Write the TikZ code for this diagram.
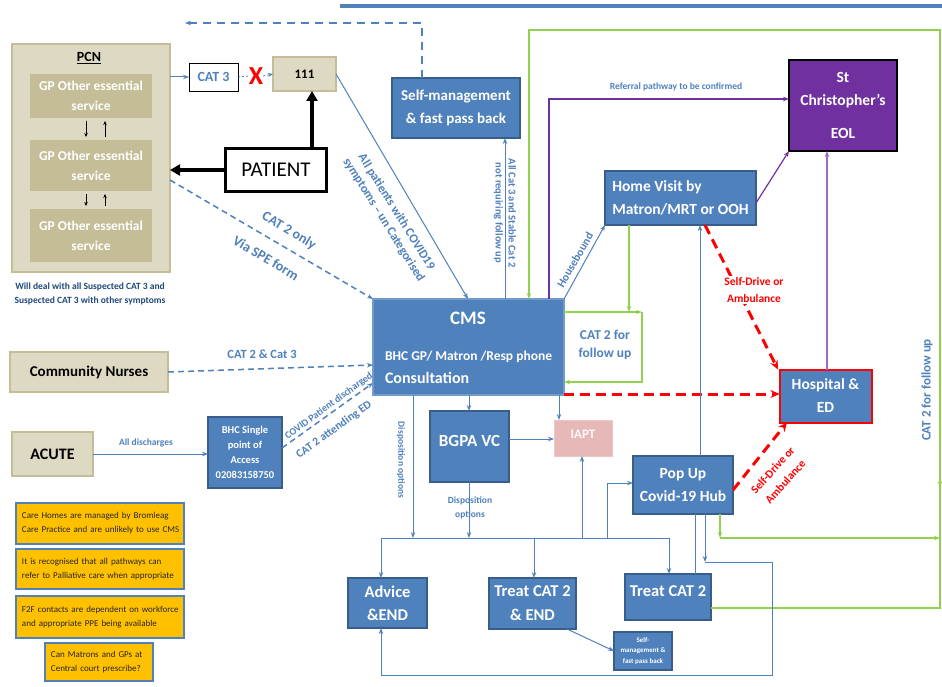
\documentclass[tikz,border=0pt]{standalone}
\usepackage{fontspec}
\setmainfont{Carlito}
\usetikzlibrary{arrows.meta}
\definecolor{cblue}{HTML}{4F81BD}
\definecolor{cbord}{HTML}{385D8A}
\definecolor{beige}{HTML}{DDD9C3}
\definecolor{beiged}{HTML}{C4BD97}
\definecolor{cgreen}{HTML}{92D050}
\definecolor{cpurple}{HTML}{7030A0}
\definecolor{cred}{HTML}{FF0000}
\definecolor{cpink}{HTML}{E6B9B8}
\definecolor{cyellow}{HTML}{FFC000}
\definecolor{navy}{HTML}{1F497D}
\newcommand\myfs[2]{\fontsize{#1bp}{#2bp}\selectfont}
\begin{document}
\begin{tikzpicture}[x=1bp,y=-1bp,
  every node/.style={inner sep=0pt, outer sep=0pt},
  box/.style={draw=cbord, fill=cblue, line width=1.2bp, text=white, align=center},
  bbox/.style={draw=beiged, fill=beige, line width=1.5bp, align=center},
  gpbox/.style={fill=beiged, minimum width=121bp, text=white, font=\bfseries\myfs{13.5}{20}, align=center},
  note/.style={draw=cblue, fill=cyellow, line width=1.5bp, align=left, font=\myfs{9}{14}, text=black!85},
  tip/.style={-{Stealth[length=6bp,width=4.5bp]}},
  conn/.style={draw=cblue, line width=1bp},
  dconn/.style={draw=cblue, line width=1.5bp, dash pattern=on 6bp off 4bp},
  gconn/.style={draw=cgreen, line width=2bp},
  pconn/.style={draw=cpurple, line width=1.2bp},
  rconn/.style={draw=cred, line width=3bp, dash pattern=on 10bp off 6bp, -{Stealth[length=9bp,width=8bp]}},
  lab/.style={text=cblue, font=\bfseries, align=center},
  rlab/.style={text=cred, font=\bfseries\myfs{11.5}{17}, align=center},
]
\useasboundingbox (0,0) rectangle (942,687);
\fill[white] (0,0) rectangle (942,687);

% ---------- nodes ----------
\node[bbox, minimum width=158bp, minimum height=228bp] (pcn) at (91,158) {};
\node[font=\bfseries\myfs{14}{16}] (pcnt) at (89,58) {\underline{PCN}};
\node[gpbox, minimum height=44bp] (gp1) at (91,96) {GP Other essential\\service};
\node[gpbox, minimum height=51bp] (gp2) at (91,165.5) {GP Other essential\\service};
\node[gpbox, minimum height=53bp] (gp3) at (91,235.5) {GP Other essential\\service};
\node[text=navy, font=\bfseries\myfs{9.5}{14}, align=center] (pcncap) at (90,294) {Will deal with all Suspected CAT 3 and\\Suspected CAT 3 with other symptoms};

\node[draw=black, fill=white, line width=0.8bp, minimum width=49bp, minimum height=28bp, text=cblue, font=\bfseries\myfs{14}{16}] (cat3) at (213.5,77) {CAT 3};
\node[text=cred, font=\bfseries\myfs{26}{26}] (xmark) at (256,76) {X};
\node[bbox, minimum width=63bp, minimum height=34bp, font=\bfseries\myfs{13}{15}] (n111) at (304.5,74) {111};
\node[draw=black, fill=white, line width=3.5bp, minimum width=101bp, minimum height=43bp, font=\myfs{21}{22}] (patient) at (276,170) {PATIENT};

\node[box, minimum width=128bp, minimum height=60bp, font=\bfseries\myfs{15}{23}] (selfm) at (456,108) {Self-management\\\& fast pass back};
\node[box, draw=cblue!80, minimum width=191bp, minimum height=96bp] (cms) at (468.5,347) {};
\node[text=white, font=\bfseries\myfs{19}{20}] (cmst) at (468,318) {CMS};
\node[text=white, font=\bfseries\myfs{13.5}{16}, anchor=west] (cmsa) at (385,357) {BHC GP/ Matron /Resp phone};
\node[text=white, font=\bfseries\myfs{16}{18}, anchor=west] (cmsb) at (385,378) {Consultation};

\node[box, minimum width=151bp, minimum height=54bp, font=\bfseries\myfs{15.5}{23}, align=left] (homev) at (680.5,198) {Home Visit by\\Matron/MRT or OOH};
\node[draw=black, fill=cpurple, line width=1.2bp, minimum width=108bp, minimum height=91bp, text=white, font=\bfseries\myfs{15.5}{23}, align=center] (stc) at (843,105.5) {St\\Christopher’s\\[10bp]EOL};
\node[box, draw=cred, line width=2bp, minimum width=92bp, minimum height=53bp, font=\bfseries\myfs{15.5}{23}] (hosp) at (825.5,396) {Hospital \&\\ED};
\node[fill=cpink, draw=cpink!80, line width=1bp, minimum width=58bp, minimum height=36bp, text=white, font=\bfseries\myfs{13}{15}] (iapt) at (583,438) {};
\node[text=white!92!cpink, font=\bfseries\myfs{13}{15}] (iaptt) at (583,434) {IAPT};
\node[box, minimum width=79bp, minimum height=71bp] (bgpa) at (469.5,446.5) {};
\node[text=white, font=\bfseries\myfs{17}{18}] (bgpat) at (469.5,441) {BGPA VC};
\node[box, minimum width=100bp, minimum height=58bp, font=\bfseries\myfs{15.5}{23}] (popup) at (683,485) {Pop Up\\Covid-19 Hub};
\node[box, minimum width=79bp, minimum height=50bp, font=\bfseries\myfs{16.5}{23}] (advice) at (387.5,603) {Advice\\\&END};
\node[box, minimum width=87bp, minimum height=51bp, font=\bfseries\myfs{16.5}{24}] (treatend) at (532.5,603.5) {Treat CAT 2\\\& END};
\node[box, minimum width=86bp, minimum height=46bp] (treat) at (668,597) {};
\node[text=white, font=\bfseries\myfs{16.5}{18}] (treatt) at (668,591) {Treat CAT 2};
\node[box, minimum width=58bp, minimum height=38bp, font=\bfseries\myfs{7}{10.5}] (smallsm) at (643,651) {Self-\\management \&\\fast pass back};

\node[bbox, minimum width=158bp, minimum height=40bp, font=\bfseries\myfs{15}{17}] (cn) at (89,372) {Community Nurses};
\node[bbox, minimum width=81bp, minimum height=44bp, font=\bfseries\myfs{16}{18}] (acute) at (52.5,454) {ACUTE};
\node[box, minimum width=74bp, minimum height=71bp, font=\bfseries\myfs{10.5}{15}] (bhc) at (245,452.5) {BHC Single\\point of\\Access\\02083158750};

\node[note, minimum width=168bp, minimum height=41bp, text width=164bp] (note1) at (100,523.5) {\hspace*{4bp}Care Homes are managed by Bromleag\\\hspace*{4bp}Care Practice and are unlikely to use CMS};
\node[note, minimum width=168bp, minimum height=40bp, text width=164bp] (note2) at (100,569) {\hspace*{4bp}It is recognised that all pathways can\\\hspace*{4bp}refer to Palliative care when appropriate};
\node[note, minimum width=168bp, minimum height=42bp, text width=164bp] (note3) at (100,617) {\hspace*{4bp}F2F contacts are dependent on workforce\\\hspace*{4bp}and appropriate PPE being available};
\node[note, minimum width=108bp, minimum height=38bp, text width=102bp] (note4) at (99,662) {\hspace*{3bp}Can Matrons and GPs at\\\hspace*{3bp}Central court prescribe?};

% ---------- connectors ----------
\draw[cblue, line width=4bp] (340,6) -- (942,6);
\coordinate (topend) at (185,23);
\draw[dconn, line width=2bp, dash pattern=on 8bp off 6bp, tip] (422,0 |- selfm.north) -- (422,23) -- (topend);

% PCN inner arrows
\foreach \a/\b in {gp1/gp2, gp2/gp3}{
  \draw[line width=0.9bp, -{Stealth[length=4bp,width=3.5bp]}, shorten <=3bp, shorten >=3bp] (86,0 |- \a.south) -- (86,0 |- \b.north);
  \draw[line width=0.9bp, -{Stealth[length=4bp,width=3.5bp]}, shorten <=3bp, shorten >=3bp] (105,0 |- \b.north) -- (105,0 |- \a.south);
}

\draw[conn, tip] (pcn.east |- cat3.west) -- (cat3.west);
\draw[cblue, line width=0.8bp, dash pattern=on 2bp off 2bp] (cat3.east) -- (xmark.west);
\draw[cblue, line width=0.8bp, dash pattern=on 2bp off 2bp, -{Stealth[length=5bp,width=4bp]}] (xmark.east) -- (n111.west);
\draw[line width=4bp, -{Triangle[length=10bp,width=11bp]}] (312,0 |- patient.north) -- (312,0 |- n111.south);
\draw[line width=4bp, -{Triangle[length=10bp,width=11bp]}] (patient.west) -- (pcn.east |- patient.west);

\draw[dconn, tip] (pcn.east |- 0,180) -- (cms.north west);
\node[lab, font=\bfseries\myfs{14}{16}, rotate=-31] (l1) at (289,231) {CAT 2 only};
\node[lab, font=\bfseries\myfs{14}{16}, rotate=-31] (l2) at (266,258) {Via SPE form};

\draw[conn, tip] (n111.east) -- (468,0 |- cms.north);
\node[lab, font=\bfseries\myfs{12.5}{15}, rotate=-58] (l3) at (390,216) {All patients with COVID19\\symptoms – un Categorised};

\draw[conn, tip] (505,0 |- cms.north) -- (505,0 |- selfm.south);
\node[lab, font=\bfseries\myfs{10.5}{13}, rotate=-90] (l4) at (505,213) {All Cat 3 and Stable Cat 2\\not requiring follow up};

% green
\draw[gconn, tip] (treat.east |- 0,608) -- (940,608) -- (940,30) -- (529,30) -- (529,0 |- cms.north);
\draw[gconn, tip] (940,500) -- (940,478);
\node[lab, font=\bfseries\myfs{13}{15}, rotate=90] (l5) at (927,390) {CAT 2 for follow up};
\draw[gconn, tip] (629,0 |- homev.south) -- (629,312);
\draw[gconn, tip] (cms.east |- 0,312) -- (642,312);
\draw[gconn, tip] (642,312) -- (642,382) -- (cms.east |- 0,382);
\node[lab, font=\bfseries\myfs{13.5}{18}] (l6) at (605,345) {CAT 2 for\\follow up};
\draw[gconn, tip] (720,0 |- popup.south) -- (720,538);
\draw[gconn, tip] (720,538) -- (940,538);

% purple
\draw[pconn, tip] (549,0 |- cms.north) -- (549,99) -- (stc.west |- 0,99);
\node[lab, font=\bfseries\myfs{9.5}{11}] (l7) at (676,87) {Referral pathway to be confirmed};
\draw[pconn, tip] (homev.east |- 0,203) -- (stc.south west);
\draw[pconn, draw=cpurple!70, tip] (827,0 |- hosp.north) -- (827,0 |- stc.south);

% housebound
\draw[conn, tip] (cms.north east) -- (homev.south west);
\node[lab, font=\bfseries\myfs{11.5}{13}, rotate=60] (l8) at (575,260) {Housebound};

% red
\draw[rconn] (cms.east |- 0,394) -- (hosp.west |- 0,394);
\draw[rconn] (705,0 |- homev.south) -- (778,0 |- hosp.north);
\node[rlab, fill=white, inner sep=1bp] (l9) at (754,290) {Self-Drive or\\Ambulance};
\draw[rconn] (popup.east |- 0,490) -- (787,0 |- hosp.south);
\node[rlab, rotate=48] (l10) at (779,476) {Self-Drive or\\Ambulance};

% pop up to home visit
\draw[conn, tip] (700,0 |- popup.north) -- (700,0 |- homev.south);

% CMS below
\draw[conn, tip] (469,0 |- cms.south) -- (469,0 |- bgpa.north);
\draw[conn, tip] (559,0 |- cms.south) -- (559,0 |- iapt.north);
\draw[conn, tip] (bgpa.east |- 0,439) -- (iapt.west |- 0,439);
\coordinate (busl) at (381,538);
\coordinate (busr) at (669,538);
\draw[conn, tip] (413,0 |- cms.south) -- (413,538);
\node[lab, font=\bfseries\myfs{9.5}{11}, rotate=-90] (l11) at (401,460) {Disposition options};
\draw[conn, tip] (469,0 |- bgpa.south) -- (469,538);
\node[lab, font=\bfseries\myfs{9.5}{14}] (l12) at (470,508) {Disposition\\options};
\draw[conn] (busl) -- (busr);
\draw[conn, tip] (busl) -- (381,0 |- advice.north);
\draw[conn, tip] (534,538) -- (534,0 |- treatend.north);
\draw[conn, tip] (busr) -- (669,0 |- treat.north);
\draw[conn, tip] (582,538) -- (582,0 |- iapt.south);
\draw[conn, tip] (607,538) -- (607,483) -- (popup.west |- 0,483);
\draw[conn] (695,0 |- popup.south) -- (695,0 |- treat.north);
\draw[conn, tip] (705,0 |- popup.south) -- (705,562);
\draw[conn, tip] (705,562) -- (772,562) -- (772,675) -- (381,675) -- (381,0 |- advice.south);
\draw[conn, tip] (567,0 |- treatend.south) -- (smallsm.west);

% left inputs
\draw[dconn, tip] (cn.east) -- (cms.west |- 0,365);
\node[lab, font=\bfseries\myfs{12.5}{14}] (l13) at (262,354) {CAT 2 \& Cat 3};
\draw[conn, tip] (acute.east) -- (bhc.west |- acute.east);
\node[lab, font=\bfseries\myfs{9.5}{11}] (l14) at (146,443) {All discharges};
\draw[dconn, tip] (bhc.east |- 0,448) -- (cms.west |- 0,383);
\node[lab, font=\bfseries\myfs{10}{12}, rotate=36] (l15) at (329,406) {COVID Patient discharged};
\node[lab, font=\bfseries\myfs{11.5}{13}, rotate=36] (l16) at (334,430) {CAT 2 attending ED};
\end{tikzpicture}
\end{document}
